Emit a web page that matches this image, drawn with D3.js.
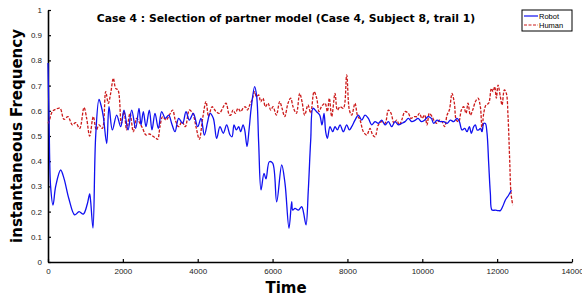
<!DOCTYPE html>
<html>
<head>
<meta charset="utf-8">
<script src="https://cdn.jsdelivr.net/npm/d3@7"></script>
<style>
body { margin: 0; background: #fff; }
svg { display: block; }
.tick text { font-family: "Liberation Sans", Arial, sans-serif; font-size: 8px; fill: #222; }
</style>
</head>
<body>
<div id="chart"></div>
<script>
// series data (time, frequency)
var robotT = [0, 30, 70, 134, 205, 338, 430, 560, 713, 830, 944, 1050, 1113, 1140, 1202, 1274, 1363, 1420, 1478, 1568, 1630, 1719, 1835, 1942, 2031, 2138, 2236, 2342, 2431,
  2485, 2547, 2618, 2707, 2778, 2859, 2948, 3037, 3135, 3224, 3304, 3393, 3491, 3598, 3687, 3776, 3883, 3999, 4088, 4177, 4266, 4328, 4417, 4506, 4595, 4684, 4774, 4863,
  4917, 4970, 5033, 5095, 5148, 5211, 5255, 5318, 5371, 5433, 5522, 5576, 5629, 5691, 5771, 5825, 5913, 6003, 6110, 6244, 6332, 6439, 6511, 6538, 6600, 6689, 6778, 6822, 6894, 6955, 7019, 7081, 7170, 7259, 7321, 7375,
  7419, 7464, 7535, 7606, 7669, 7731, 7802, 7891, 7980, 8052, 8114, 8203, 8292, 8381, 8470, 8559, 8648, 8737, 8827, 8916, 9005, 9094, 9183, 9272, 9361, 9450, 9539, 9628, 9717,
  9815, 9886, 9975, 10064, 10153, 10243, 10305, 10394, 10483, 10572, 10661, 10750, 10839, 10928, 10991, 11062, 11133, 11195, 11258, 11311, 11374, 11418, 11463, 11507, 11552, 11596, 11641, 11685, 11730, 11774, 11819, 11863, 11952, 12024, 12086, 12148, 12220, 12309, 12380];
var robotV = [0.79, 0.55, 0.30, 0.226, 0.30, 0.365, 0.33, 0.25, 0.187, 0.20, 0.19, 0.23, 0.27, 0.24, 0.135, 0.50, 0.645, 0.62, 0.577, 0.47, 0.616, 0.524, 0.583, 0.537, 0.603, 0.524, 0.603, 0.53, 0.61,
  0.544, 0.597, 0.537, 0.603, 0.524, 0.590, 0.530, 0.597, 0.570, 0.583, 0.550, 0.517, 0.570, 0.550, 0.597, 0.563, 0.590, 0.537, 0.570, 0.504, 0.557, 0.590, 0.570, 0.491, 0.537, 0.511, 0.544, 0.504,
  0.497, 0.544, 0.524, 0.537, 0.517, 0.544, 0.524, 0.458, 0.524, 0.616, 0.696, 0.656, 0.471, 0.286, 0.352, 0.33, 0.398, 0.392, 0.239, 0.385, 0.312, 0.134, 0.239, 0.206, 0.213, 0.206, 0.22, 0.20, 0.147, 0.286, 0.484, 0.61, 0.597, 0.583, 0.544, 0.590,
  0.517, 0.491, 0.537, 0.517, 0.537, 0.524, 0.544, 0.517, 0.544, 0.524, 0.537, 0.563, 0.583, 0.563, 0.583, 0.570, 0.544, 0.557, 0.550, 0.563, 0.544, 0.557, 0.537, 0.557, 0.544, 0.550, 0.557, 0.570, 0.557,
  0.563, 0.570, 0.557, 0.563, 0.577, 0.570, 0.550, 0.563, 0.557, 0.557, 0.550, 0.563, 0.557, 0.570, 0.557, 0.524, 0.530, 0.517, 0.537, 0.511, 0.537, 0.544, 0.524, 0.524, 0.530, 0.517, 0.550, 0.550, 0.511, 0.392, 0.272, 0.206, 0.206, 0.204, 0.204, 0.220, 0.246, 0.266, 0.286];

var humanT = [0, 27, 116, 205, 321, 427, 534, 650, 739, 846, 962, 1033, 1113, 1211, 1291, 1363, 1452, 1541, 1612, 1674, 1746, 1808, 1870, 1959, 2031, 2102, 2191, 2280, 2369, 2458,
  2529, 2618, 2707, 2796, 2885, 2930, 2992, 3063, 3153, 3242, 3331, 3402, 3491, 3580, 3669, 3776, 3865, 3954, 4043, 4132, 4221, 4292, 4382, 4488, 4577, 4684, 4756, 4845,
  4881, 4944, 5006, 5077, 5148, 5211, 5273, 5327, 5389, 5451, 5522, 5567, 5629, 5683, 5745, 5807, 5879, 5950, 6012, 6101, 6190, 6253, 6324, 6413, 6484, 6547, 6636, 6725, 6787, 6858, 6947, 7019, 7108, 7179, 7241, 7304,
  7402, 7464, 7517, 7580, 7669, 7731, 7802, 7891, 7980, 8052, 8114, 8203, 8265, 8337, 8426, 8515, 8604, 8675, 8737, 8827, 8916, 9005, 9094, 9165, 9245, 9316, 9388, 9450, 9539, 9628, 9699, 9780,
  9860, 9922, 9993, 10064, 10127, 10189, 10260, 10332, 10394, 10456, 10528, 10599, 10661, 10723, 10795, 10857, 10911, 10973, 11044, 11106, 11169, 11222, 11285, 11347, 11418, 11489, 11552, 11596, 11641, 11703, 11774, 11846, 11890, 11935, 11979, 12024, 12086, 12131, 12193, 12246, 12291, 12335, 12371, 12416];
var humanV = [0.55, 0.557, 0.597, 0.606, 0.61, 0.566, 0.577, 0.544, 0.553, 0.53, 0.613, 0.57, 0.50, 0.577, 0.524, 0.544, 0.53, 0.676, 0.63, 0.669, 0.729, 0.689, 0.683, 0.55, 0.597, 0.524, 0.59, 0.517, 0.57, 0.55,
  0.530, 0.504, 0.508, 0.500, 0.491, 0.487, 0.537, 0.577, 0.563, 0.583, 0.603, 0.563, 0.537, 0.557, 0.537, 0.603, 0.590, 0.537, 0.487, 0.570, 0.636, 0.577, 0.616, 0.597, 0.590, 0.616, 0.630, 0.583,
  0.583, 0.603, 0.590, 0.610, 0.597, 0.610, 0.616, 0.603, 0.623, 0.643, 0.676, 0.656, 0.663, 0.636, 0.650, 0.616, 0.630, 0.603, 0.616, 0.583, 0.636, 0.610, 0.577, 0.630, 0.650, 0.616, 0.590, 0.669, 0.636, 0.583, 0.623, 0.590, 0.676, 0.650, 0.597, 0.616,
  0.630, 0.597, 0.650, 0.577, 0.669, 0.603, 0.616, 0.610, 0.742, 0.603, 0.583, 0.630, 0.583, 0.563, 0.517, 0.504, 0.530, 0.504, 0.497, 0.544, 0.557, 0.550, 0.603, 0.590, 0.550, 0.563, 0.544, 0.563, 0.597, 0.590, 0.570, 0.577,
  0.577, 0.590, 0.570, 0.583, 0.544, 0.590, 0.577, 0.557, 0.550, 0.563, 0.557, 0.537, 0.583, 0.603, 0.669, 0.630, 0.563, 0.557, 0.603, 0.616, 0.590, 0.630, 0.583, 0.603, 0.636, 0.650, 0.616, 0.517, 0.590, 0.623, 0.630, 0.689, 0.676, 0.696, 0.650, 0.702, 0.656, 0.623, 0.683, 0.669, 0.577, 0.405, 0.272, 0.226];

var xTicks = [0, 2000, 4000, 6000, 8000, 10000, 12000, 14000];
var yTicks = [0, 0.1, 0.2, 0.3, 0.4, 0.5, 0.6, 0.7, 0.8, 0.9, 1];
var seriesNames = ["Robot", "Human"];
var seriesColors = ["#1010f0", "#cc1a1a"];

var width = 582, height = 297;
var margin = {t: 10, r: 10, b: 35, l: 48};

var svg = d3.select("#chart").append("svg")
    .attr("width", width)
    .attr("height", height);

var x = d3.scaleLinear().domain([0, 14000]).range([margin.l, width - margin.r]);
var y = d3.scaleLinear().domain([0, 1]).range([height - margin.b, margin.t]);

// axes, ticks pointing inward
svg.append("g")
    .attr("transform", "translate(0," + (height - margin.b) + ")")
    .call(d3.axisBottom(x).tickValues(xTicks).tickSize(-3).tickPadding(6).tickSizeOuter(0).tickFormat(d3.format("d")))
    .call(function(g) {
      g.select(".domain").attr("stroke", "#000").attr("stroke-width", 1.6);
      g.selectAll(".tick line").attr("stroke", "#000").attr("stroke-width", 1.2);
    });

svg.append("g")
    .attr("transform", "translate(" + margin.l + ",0)")
    .call(d3.axisLeft(y).tickValues(yTicks).tickSize(-3).tickPadding(6).tickSizeOuter(0).tickFormat(d3.format("~g")))
    .call(function(g) {
      g.select(".domain").attr("stroke", "#000").attr("stroke-width", 1.6);
      g.selectAll(".tick line").attr("stroke", "#000").attr("stroke-width", 1.2);
    });

var line = d3.line()
    .x(function(d) { return x(d[0]); })
    .y(function(d) { return y(d[1]); })
    .curve(d3.curveCatmullRom.alpha(0.5));

var humanData = d3.zip(humanT, humanV);
var robotData = d3.zip(robotT, robotV);

svg.append("path")
    .datum(humanData)
    .attr("fill", "none")
    .attr("stroke", seriesColors[1])
    .attr("stroke-width", 1.3)
    .attr("stroke-dasharray", "3,1.5")
    .attr("d", line);

svg.append("path")
    .datum(robotData)
    .attr("fill", "none")
    .attr("stroke", seriesColors[0])
    .attr("stroke-width", 1.3)
    .attr("d", line);

// title and axis labels
svg.append("text")
    .attr("x", 286).attr("y", 22)
    .attr("text-anchor", "middle")
    .attr("font-family", "DejaVu Sans, sans-serif")
    .attr("font-weight", "bold")
    .attr("font-size", 10.8)
    .text("Case 4 : Selection of partner model (Case 4, Subject 8, trail 1)");

svg.append("text")
    .attr("transform", "translate(22," + 136 + ") rotate(-90)")
    .attr("text-anchor", "middle")
    .attr("font-family", "DejaVu Sans, sans-serif")
    .attr("font-weight", "bold")
    .attr("font-size", 15)
    .text("instantaneous Frequency");

svg.append("text")
    .attr("x", 286).attr("y", 293)
    .attr("text-anchor", "middle")
    .attr("font-family", "DejaVu Sans, sans-serif")
    .attr("font-weight", "bold")
    .attr("font-size", 15)
    .text("Time");

// legend
var lg = svg.append("g").attr("transform", "translate(522,10)");
lg.append("rect")
    .attr("width", 50).attr("height", 21)
    .attr("fill", "#fff").attr("stroke", "#000").attr("stroke-width", 1);
seriesNames.forEach(function(name, i) {
  var yy = 6 + i * 9;
  lg.append("line")
      .attr("x1", 2).attr("x2", 16).attr("y1", yy).attr("y2", yy)
      .attr("stroke", seriesColors[i]).attr("stroke-width", 1.2)
      .attr("stroke-dasharray", i === 1 ? "3,1.5" : null);
  lg.append("text")
      .attr("x", 17).attr("y", yy + 2.5)
      .attr("font-family", "Liberation Sans, Arial, sans-serif")
      .attr("font-size", 7.5)
      .attr("fill", "#000")
      .text(name);
});
</script>
</body>
</html>
